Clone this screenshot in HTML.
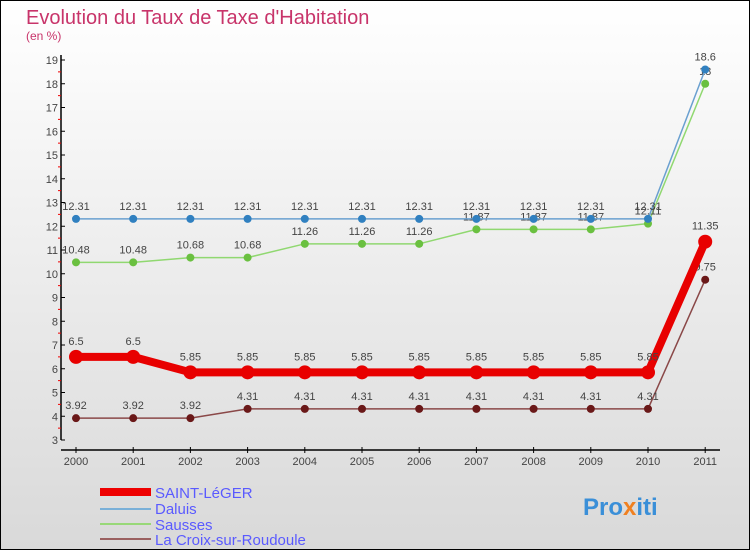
<!DOCTYPE html>
<html><head><meta charset="utf-8"><style>
body{margin:0}
#c{width:748px;height:548px;border:1px solid #000;background:linear-gradient(#fff,#d9d9d9);position:relative;overflow:hidden;font-family:"Liberation Sans",sans-serif}
</style></head><body>
<div id="c">
<svg width="748" height="548" xmlns="http://www.w3.org/2000/svg">
<g transform="translate(-1,-1)" id="root">
<text x="26" y="24" font-size="20" fill="#c8346a">Evolution du Taux de Taxe d'Habitation</text>
<text x="26" y="40" font-size="12" fill="#c8346a">(en %)</text>
<g id="axes"></g>
<g id="series"></g>
<g font-size="15" fill="#5a5aff">
<line x1="100" y1="492" x2="151" y2="492" stroke="#e00" stroke-width="8"/>
<text x="155" y="498">SAINT-LéGER</text>
<line x1="100" y1="509" x2="151" y2="509" stroke="#7ab0d8" stroke-width="2"/>
<text x="155" y="514">Daluis</text>
<line x1="100" y1="524" x2="151" y2="524" stroke="#98d878" stroke-width="2"/>
<text x="155" y="530">Sausses</text>
<line x1="100" y1="539" x2="151" y2="539" stroke="#9a6060" stroke-width="2"/>
<text x="155" y="545">La Croix-sur-Roudoule</text>
</g>
<text x="583" y="515" font-size="24" font-weight="bold" fill="#3a8fd8">Pro<tspan fill="#f08020">x</tspan>iti</text>
</g>
</svg>
</div>
<script>
const years=["2000","2001","2002","2003","2004","2005","2006","2007","2008","2009","2010","2011"];
const yTicks=[3,4,5,6,7,8,9,10,11,12,13,14,15,16,17,18,19];
const saintLeger=[6.5,6.5,5.85,5.85,5.85,5.85,5.85,5.85,5.85,5.85,5.85,11.35];
const daluis=[12.31,12.31,12.31,12.31,12.31,12.31,12.31,12.31,12.31,12.31,12.31,18.6];
const sausses=[10.48,10.48,10.68,10.68,11.26,11.26,11.26,11.87,11.87,11.87,12.11,18];
const laCroix=[3.92,3.92,3.92,4.31,4.31,4.31,4.31,4.31,4.31,4.31,4.31,9.75];
const NS="http://www.w3.org/2000/svg";
const X=i=>76+i*57.2;
const Y=v=>440-(v-3)*23.75;
function mk(t,a,p){const e=document.createElementNS(NS,t);for(const k in a)e.setAttribute(k,a[k]);p.appendChild(e);return e;}
const ax=document.getElementById('axes');
let l=mk('line',{x1:61,y1:Y(19)-5,x2:61,y2:Y(3),stroke:'#000','stroke-width':1.5},ax);


l=mk('line',{x1:61,y1:450,x2:720,y2:450,stroke:'#000','stroke-width':1.5},ax);


yTicks.forEach(v=>{
  mk('line',{x1:61,y1:Y(v),x2:65,y2:Y(v),stroke:'#000'},ax);
  if(v<19) mk('line',{x1:58,y1:Y(v+0.5),x2:61,y2:Y(v+0.5),stroke:'#e00'},ax);
  const t=mk('text',{x:58,y:Y(v)+4,'font-size':11,fill:'#444','text-anchor':'end'},ax);
  t.textContent=v;
  
  
});
years.forEach((y,i)=>{
  mk('line',{x1:X(i),y1:447,x2:X(i),y2:453,stroke:'#000'},ax);
  const t=mk('text',{x:X(i),y:465,'font-size':11,fill:'#444','text-anchor':'middle'},ax);
  t.textContent=y;
  
  
});
const sg=document.getElementById('series');
function series(name,vals,color,w,r,dot){
  const g=mk('g',{},sg);
  
  
  mk('polyline',{points:vals.map((v,i)=>X(i)+','+Y(v)).join(' '),fill:'none',stroke:color,'stroke-width':w,'stroke-linejoin':'round'},g);
  vals.forEach((v,i)=>{
    const c=mk('circle',{cx:X(i),cy:Y(v),r:r,fill:dot},g);
    
    
    const t=mk('text',{x:X(i),y:Y(v)-r-5,'font-size':11,fill:'#444','text-anchor':'middle'},g);
    t.textContent=String(v);
    
    
  });
}
series('la-croix',laCroix,'#8a4848',1.5,4,'#6a1818');
series('sausses',sausses,'#90d870',1.5,4,'#6ac040');
series('daluis',daluis,'#6aa0d0',1.5,4,'#3080c0');
series('saint-leger',saintLeger,'#e80000',8,7,'#e80000');
</script>
</body></html>
